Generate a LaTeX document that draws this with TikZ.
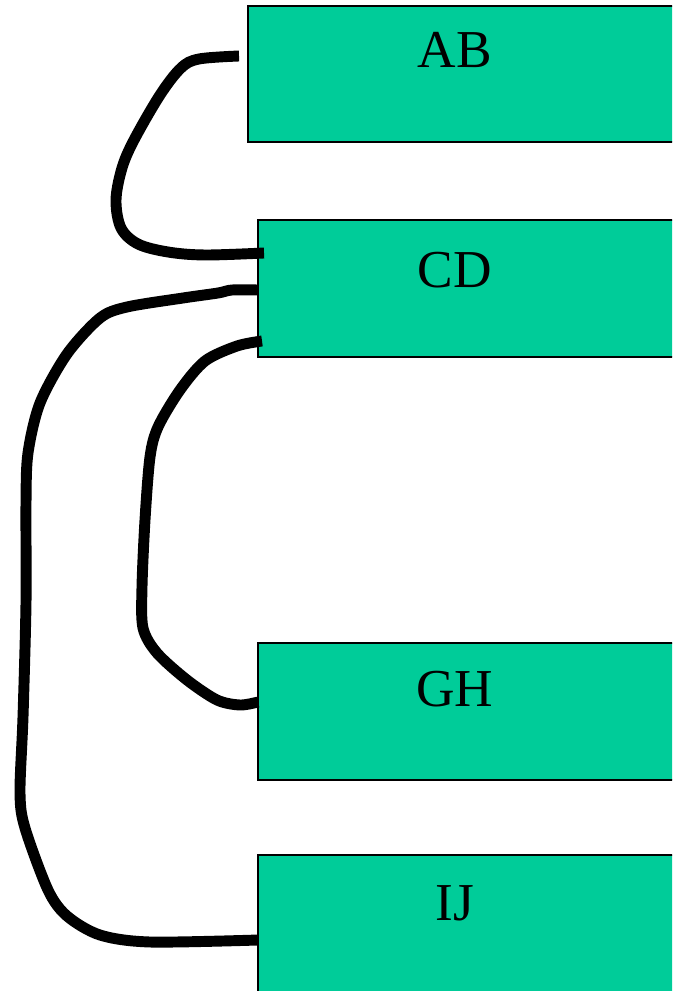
\documentclass[tikz,border=0pt]{standalone}
\usepackage{fontspec}
\setmainfont{Liberation Serif}
\definecolor{boxgreen}{RGB}{0,204,153}
\tikzset{
  box/.style={draw=black, line width=1.1pt, fill=boxgreen, rectangle, inner sep=0pt, outer sep=0pt, anchor=north west},
  lbl/.style={anchor=base, inner sep=0pt, font=\fontsize{40}{44}\selectfont},
  link/.style={draw=black, line width=8.2pt, line join=round, line cap=butt}
}
\begin{document}
\begin{tikzpicture}[x=0.75pt, y=-0.75pt]
\useasboundingbox (0,0) rectangle (672,991);
\clip (0,0) rectangle (672,991);
% boxes
\node[box, minimum width=339pt, minimum height=102pt] (AB) at (248,6) {};
\node[box, minimum width=331.5pt, minimum height=102.75pt] (CD) at (258,220) {};
\node[box, minimum width=331.5pt, minimum height=102.75pt] (GH) at (258,643) {};
\node[box, minimum width=331.5pt, minimum height=110pt] (IJ) at (258,855) {};
% labels
\node[lbl] (ABt) at (455,68) {AB};
\node[lbl] (CDt) at (455,287) {CD};
\node[lbl] (GHt) at (455,706) {GH};
\node[lbl] (IJt) at (455,920) {IJ};
% connector end points
\coordinate (a1) at (239,56);
\coordinate (c1) at (264,253);
\coordinate (c2) at (258,290);
\coordinate (i1) at (258,940);
\coordinate (c3) at (262,341);
\coordinate (g1) at (258,702);
% AB -> CD
\draw[link] plot[smooth, tension=0.55] coordinates {(a1) (199,59) (181,68) (160,95) (134,140) (122,168) (116,200) (121,228) (138,244) (168,252) (205,255) (c1)};
% CD -> IJ
\draw[link] plot[smooth, tension=0.5] coordinates {(c2) (232,290) (218,293) (183,298) (127,307) (100,318) (67,354) (40,403) (28,453) (26,503) (26,603) (23,717) (20,793) (25,828) (48,890) (67,916) (100,935) (150,942) (i1)};
% CD -> GH
\draw[link] plot[smooth, tension=0.5] coordinates {(c3) (237,346) (205,361) (180,390) (158,427) (150,457) (145,520) (142,587) (143,628) (157,653) (187,680) (217,700) (240,705) (g1)};
\end{tikzpicture}
\end{document}
